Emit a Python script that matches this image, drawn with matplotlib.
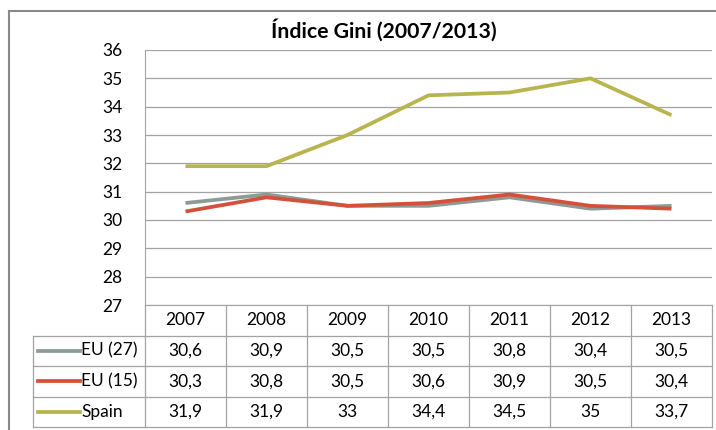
import matplotlib
matplotlib.use("Agg")
import matplotlib.pyplot as plt
from matplotlib.lines import Line2D

# data
years = ["2007", "2008", "2009", "2010", "2011", "2012", "2013"]
series_names = ["EU (27)", "EU (15)", "Spain"]
eu27 = [30.6, 30.9, 30.5, 30.5, 30.8, 30.4, 30.5]
eu15 = [30.3, 30.8, 30.5, 30.6, 30.9, 30.5, 30.4]
spain = [31.9, 31.9, 33, 34.4, 34.5, 35, 33.7]
colors = ["#8c9c94", "#d4503a", "#b8b44e"]
yticks = list(range(27, 37))

plt.rcParams['font.family'] = ['Lato', 'DejaVu Sans']

W, H = 716, 430
fig = plt.figure(figsize=(W / 100, H / 100), dpi=100)


def box(x0, y0, x1, y1):
    return [x0 / W, 1 - y1 / H, (x1 - x0) / W, (y1 - y0) / H]


grid_col = "#a3a3a3"
fs = 12.5
lw_series = 2.7

# outer chart border (cropped on right and bottom)
fig.add_artist(Line2D([9 / W, 9 / W], [0, 1 - 11 / H], color="#8a8a8a", lw=1.5))
fig.add_artist(Line2D([9 / W, 1], [1 - 11 / H, 1 - 11 / H], color="#8a8a8a", lw=1.5))

fig.text(384 / W, 1 - 30 / H, "Índice Gini (2007/2013)", ha="center", va="center",
         fontsize=15.3, fontweight="bold")

# line chart
ax = fig.add_axes(box(145, 50, 712, 305))
x = range(len(years))
for vals, c in zip([eu27, eu15, spain], colors):
    ax.plot(x, vals, color=c, lw=lw_series, solid_capstyle="butt")
ax.set_xlim(-0.5, len(years) - 0.5)
ax.set_ylim(27, 36)
ax.set_yticks(yticks)
ax.set_xticks([])
ax.yaxis.grid(True, color=grid_col, lw=0.9)
ax.set_axisbelow(True)
for s in ["top", "right"]:
    ax.spines[s].set_visible(False)
ax.spines["left"].set_color(grid_col)
ax.spines["bottom"].set_color(grid_col)
ax.tick_params(axis="y", length=0, pad=16, labelsize=fs)

# data table below the chart
col_w = 81.0
left_col = 112 / col_w
tab = fig.add_axes(box(33, 305, 712, 427))
xl = -0.5 - left_col
tab.set_xlim(xl, len(years) - 0.5)
tab.set_ylim(4, 0)
tab.axis("off")

for i, yr in enumerate(years):
    tab.text(i, 0.5, yr, ha="center", va="center", fontsize=fs)
rows = [eu27, eu15, spain]
for r, (name, vals, c) in enumerate(zip(series_names, rows, colors)):
    yc = r + 1.5
    tab.plot([xl + 5 / col_w, xl + 47 / col_w], [yc, yc], color=c, lw=lw_series)
    tab.text(xl + 48 / col_w, yc, name, ha="left", va="center", fontsize=fs)
    for i, v in enumerate(vals):
        txt = ("%g" % v).replace(".", ",")
        tab.text(i, yc, txt, ha="center", va="center", fontsize=fs)

for k in range(1, 5):
    tab.plot([xl, len(years) - 0.5], [k, k], color=grid_col, lw=0.9, clip_on=False)
for i in range(len(years) + 1):
    tab.plot([i - 0.5, i - 0.5], [0, 4], color=grid_col, lw=0.9, clip_on=False)
tab.plot([xl, xl], [1, 4], color=grid_col, lw=0.9, clip_on=False)

fig.savefig("out.png", dpi=100)
